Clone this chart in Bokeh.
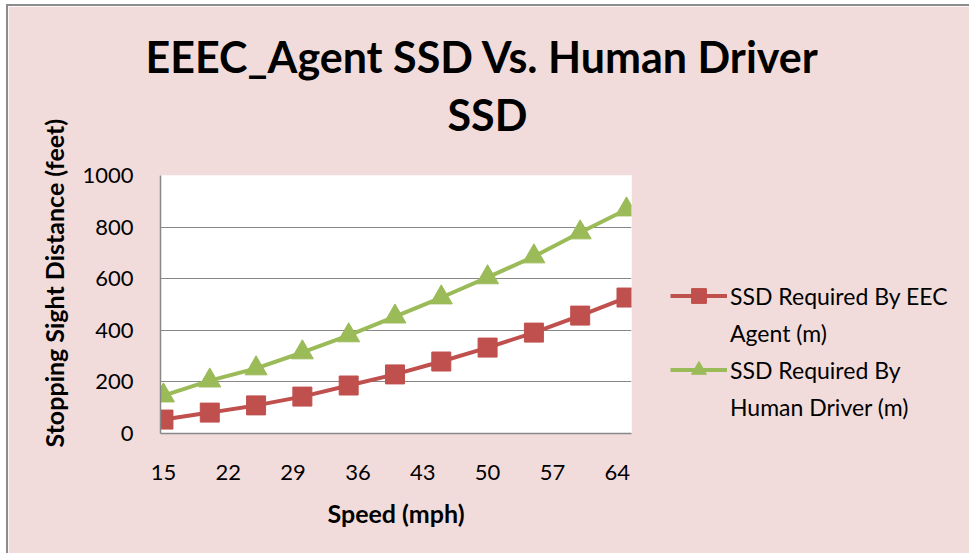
from bokeh.plotting import figure
from bokeh.models import Range1d, FixedTicker, Legend, LegendItem, Title
from bokeh.embed import file_html
from bokeh.resources import INLINE

# ---- data ----
speeds = [15, 20, 25, 30, 35, 40, 45, 50, 55, 60, 65]
eec_ssd = [54, 81, 109, 143, 186, 229, 279, 333, 391, 457, 527]
human_ssd = [147, 205, 252, 314, 380, 453, 527, 605, 686, 779, 868]
x_ticks = [15, 22, 29, 36, 43, 50, 57, 64]
y_ticks = [0, 200, 400, 600, 800, 1000]

title_line1 = "EEEC_Agent SSD Vs. Human Driver"
title_line2 = "SSD"
x_title = "Speed (mph)"
y_title = "Stopping Sight Distance (feet)"
eec_label = ["SSD Required By EEC", "Agent (m)"]
human_label = ["SSD Required By", "Human Driver (m)"]

FONT = "Lato"
RED = "#C0504D"
GREEN = "#9BBB59"
BG = "#F2DCDB"
GRID = "#878787"

p = figure(frame_width=471, frame_height=258,
           min_border_left=152, min_border_right=338,
           min_border_top=169, min_border_bottom=120,
           x_range=Range1d(14.68, 65.54), y_range=Range1d(0, 1000),
           output_backend="svg", toolbar_location=None,
           background_fill_color="white", border_fill_color=BG)
p.styles = {"margin-left": "6px", "margin-top": "4px",
            "border-left": "2px solid #8C8C8C", "border-top": "2px solid #8C8C8C"}
p.outline_line_color = None

# axes
p.xaxis.ticker = FixedTicker(ticks=x_ticks)
p.yaxis.ticker = FixedTicker(ticks=y_ticks)
for ax in (p.xaxis[0], p.yaxis[0]):
    ax.major_tick_line_color = None
    ax.minor_tick_line_color = None
    ax.major_tick_out = 0
    ax.major_tick_in = 0
    ax.axis_line_color = GRID
    ax.axis_line_width = 1.5
    ax.major_label_text_font = FONT
    ax.major_label_text_font_size = "22px"
    ax.major_label_text_color = "black"
p.xaxis.major_label_standoff = 31
p.yaxis.major_label_standoff = 27
p.xaxis.axis_label = x_title
p.xaxis.axis_label_text_font = FONT
p.xaxis.axis_label_text_font_size = "25px"
p.xaxis.axis_label_text_font_style = "bold"
p.xaxis.axis_label_text_color = "black"
p.xaxis.axis_label_standoff = 15

# y-axis title placed as a side title so it can sit off-centre like the original
p.add_layout(Title(text=y_title, align="left", offset=-14, standoff=22,
                   text_font=FONT, text_font_size="25px", text_font_style="bold",
                   text_color="black"), "left")

p.xgrid.grid_line_color = None
p.ygrid.grid_line_color = GRID
p.ygrid.grid_line_width = 1

# series
r1l = p.line(speeds, eec_ssd, line_color=RED, line_width=4)
r1m = p.scatter(speeds, eec_ssd, marker="square", size=19, fill_color=RED, line_color=RED)
r2l = p.line(speeds, human_ssd, line_color=GREEN, line_width=4)
r2m = p.scatter(speeds, human_ssd, marker="triangle", size=22, fill_color=GREEN, line_color=GREEN)
# invisible sample used for the second line of each legend entry
blank = p.line(x=[], y=[], line_alpha=0)

legend = Legend(items=[LegendItem(label=eec_label[0], renderers=[r1l, r1m]),
                       LegendItem(label=eec_label[1], renderers=[blank]),
                       LegendItem(label=human_label[0], renderers=[r2l, r2m]),
                       LegendItem(label=human_label[1], renderers=[blank])],
                location=(39, 8), glyph_width=57, glyph_height=37, label_height=24,
                label_standoff=3, spacing=0, padding=0, margin=39,
                border_line_color=None, background_fill_alpha=0,
                label_text_font=FONT, label_text_font_size="23px", label_text_color="black")
p.add_layout(legend, "right")

# title (two centred lines)
t2 = Title(text=title_line2, align="left", offset=287, standoff=72,
           text_font=FONT, text_font_size="43px", text_font_style="bold", text_color="black")
t1 = Title(text=title_line1, align="left", offset=-15, standoff=-62,
           text_font=FONT, text_font_size="43px", text_font_style="bold", text_color="black")
p.add_layout(t2, "above")
p.add_layout(t1, "above")

open("out.html", "w").write(file_html(p, INLINE))
